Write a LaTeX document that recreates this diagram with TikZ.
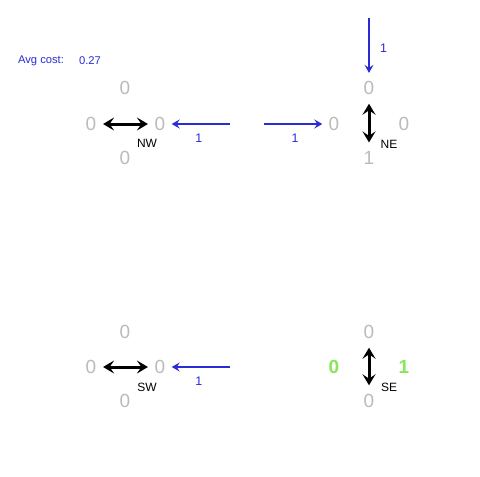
\documentclass[tikz,border=0pt]{standalone}
\usepackage{fontspec}
\setmainfont{Liberation Sans}
\usetikzlibrary{arrows.meta}
\definecolor{val}{HTML}{BBBBBB}
\definecolor{pol}{HTML}{2B2BD6}
\definecolor{best}{HTML}{8BE55A}
\definecolor{bg}{HTML}{FFFFFF}

\begin{document}
\begin{tikzpicture}[x=0.5pt,y=-0.5pt,
    num/.style={text=val,font=\fontsize{9.5}{10}\selectfont,inner sep=1pt},
    hit/.style={num,text=best,font=\bfseries\fontsize{9.5}{10}\selectfont},
    cell/.style={font=\fontsize{6}{7}\selectfont,inner sep=0pt},
    move/.style={{Stealth[length=5.5pt,width=6.5pt,inset=2.2pt]}-{Stealth[length=5.5pt,width=6.5pt,inset=2.2pt]},
      line width=1.5pt,shorten <=2.2pt,shorten >=2.2pt},
    act/.style={-{Stealth[length=4pt,width=4.5pt,inset=1.5pt]},pol,line width=1pt,shorten >=2pt},
    cost/.style={font=\fontsize{6.2}{7}\selectfont,text=pol,inner sep=0pt}]
    \fill[bg] (0,0) rectangle (480,476);
    % average
    \node[cost,font=\fontsize{5.6}{7}\selectfont] (avg) at (41,61) {Avg cost:};
    \node[cost,font=\fontsize{5.6}{7}\selectfont] (avgval) at (90,61) {0.27};
    % NW
    \node[num] (nwt) at (125,88) {0};
    \node[num] (nwl) at (91,124) {0};
    \node[num] (nwr) at (160,124) {0};
    \node[num] (nwb) at (125,158) {0};
    \node[cell] (nw) at (147,143) {NW};
    \draw[move] (nwl) -- (nwr);
    % NE
    \node[num] (net) at (369,88) {0};
    \node[num] (nel) at (334,124) {0};
    \node[num] (ner) at (404,124) {0};
    \node[num] (neb) at (369,158) {1};
    \node[cell] (ne) at (389,144) {NE};
    \draw[move,shorten <=3.3pt,shorten >=3.3pt] (net) -- (neb);
    % SW
    \node[num] (swt) at (125,332) {0};
    \node[num] (swl) at (91,367) {0};
    \node[num] (swr) at (160,367) {0};
    \node[num] (swb) at (125,401) {0};
    \node[cell] (sw) at (147,387) {SW};
    \draw[move] (swl) -- (swr);
    % SE
    \node[num] (set) at (369,332) {0};
    \node[hit] (sel) at (334,367) {0};
    \node[hit] (ser) at (404,367) {1};
    \node[num] (seb) at (369,401) {0};
    \node[cell] (se) at (389,387) {SE};
    \draw[move,shorten <=3.3pt,shorten >=3.3pt] (set) -- (seb);
    % actions between cells
    \coordinate (a1) at (230,124);
    \coordinate (a2) at (264,124);
    \coordinate (a3) at (369,18);
    \coordinate (a4) at (230,367);
    \draw[act] (a1) -- (nwr) node[cost,pos=0.5,below=4.5pt] {1};
    \draw[act] (a2) -- (nel) node[cost,pos=0.5,below=4.5pt] {1};
    \draw[act,shorten >=3pt] (a3) -- (net) node[cost,pos=0.5,right=5pt] {1};
    \draw[act] (a4) -- (swr) node[cost,pos=0.5,below=4.5pt] {1};
\end{tikzpicture}
\end{document}
